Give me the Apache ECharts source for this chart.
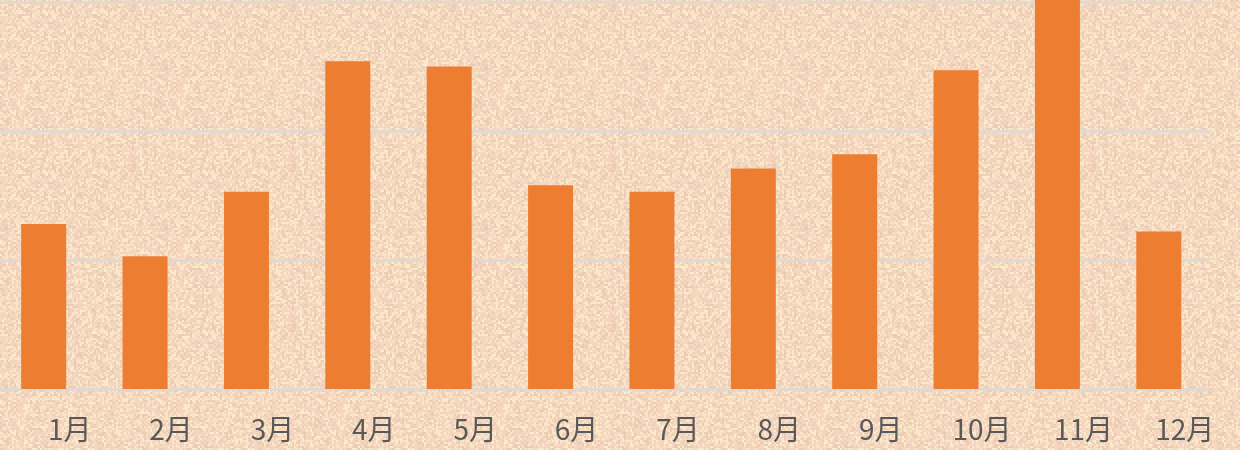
<!DOCTYPE html>
<html>
<head>
<meta charset="utf-8">
<script src="https://cdn.jsdelivr.net/npm/echarts@6/dist/echarts.min.js"></script>
<style>
html,body{margin:0;padding:0;width:1240px;height:450px;overflow:hidden;background:#F5D9C0;}
#wrap{position:relative;width:1240px;height:450px;overflow:hidden;}
#chart{position:absolute;left:-7.5px;top:0;width:1256px;height:450px;}
</style>
</head>
<body>
<div id="wrap"><div id="chart"></div></div>
<script>
const categories = ['1月','2月','3月','4月','5月','6月','7月','8月','9月','10月','11月','12月'];
const values = [128, 103, 153, 254, 250, 158, 153, 171, 182, 247, 320, 122];

// deterministic canvas-like texture for the background
(function makeTexture(){
  const c = document.createElement('canvas');
  c.width = 160; c.height = 160;
  const g = c.getContext('2d');
  const palette = ['#F7DAC2','#FAE4C8','#F4D2BC','#FCEBCD','#EDCCB4','#F8D6C6','#F2D8BA','#E9CCB6','#FBE7C6','#F6D5C0'];
  let s = 12345;
  function h(){ s = (s * 1103515245 + 12345) & 0x7fffffff; return s / 0x7fffffff; }
  for (let y = 0; y < 160; y += 2) {
    for (let x = 0; x < 160; x += 2) {
      g.fillStyle = palette[Math.floor(h() * palette.length)];
      g.fillRect(x, y, 2, 2);
    }
  }
  document.getElementById('wrap').style.background = 'url(' + c.toDataURL() + ') repeat';
})();

const chart = echarts.init(document.getElementById('chart'), null, {renderer: 'canvas'});
chart.setOption({
  backgroundColor: 'transparent',
  animation: false,
  grid: {left: 0, right: 39.5, top: 2, bottom: 61, containLabel: false},
  xAxis: {
    type: 'category',
    data: categories,
    axisLine: {show: false},
    axisTick: {show: false},
    axisLabel: {
      color: '#595959',
      fontSize: 28,
      fontFamily: '"Noto Sans CJK SC", "Noto Sans", sans-serif',
      margin: 26,
      padding: [0, 0, 0, 52]
    }
  },
  yAxis: {
    type: 'value',
    min: 0, max: 300, interval: 100,
    axisLine: {show: false},
    axisTick: {show: false},
    axisLabel: {show: false},
    splitLine: {lineStyle: {color: '#DCDAD6', width: 2.5}}
  },
  series: [{
    type: 'bar',
    data: values,
    barWidth: 45,
    clip: false,
    itemStyle: {color: '#ED7D31'},
    z: 3
  }]
});
</script>
</body>
</html>
